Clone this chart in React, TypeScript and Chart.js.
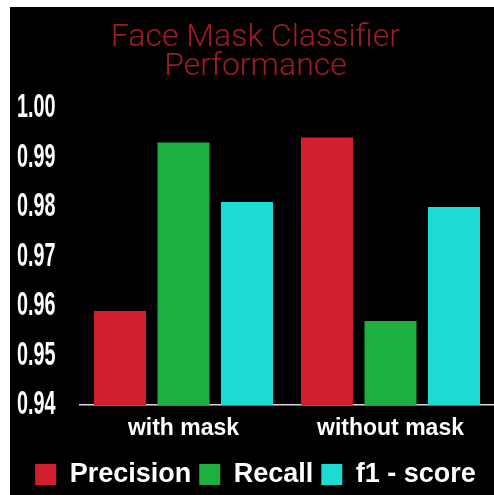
import { useEffect, useRef } from 'react';
import { Chart, registerables } from 'chart.js';

Chart.register(...registerables);

const categories = ['with mask', 'without mask'];
const seriesNames = ['Precision', 'Recall', 'f1 - score'];
const precision = [0.959, 0.994];
const recall = [0.993, 0.957];
const f1Score = [0.981, 0.98];
const yMin = 0.94;
const yMax = 1.0;
const yStep = 0.01;
const titleLines = ['Face Mask Classifier', 'Performance'];

const colors = ['#d11f2f', '#1db040', '#1cdad4'];

const condenseYLabels = {
  id: 'condenseYLabels',
  beforeDraw(chart: any) {
    const s = chart.scales.y;
    if (s && !s.__condensed) {
      const orig = s.drawLabels.bind(s);
      s._computeLabelArea = () => undefined;
      s.drawLabels = function (area: any) {
        const ctx = this.ctx;
        ctx.save();
        ctx.translate(this.left, 0);
        ctx.scale(0.6, 1);
        ctx.translate(-this.left, 0);
        orig(area);
        ctx.restore();
      };
      s.__condensed = true;
    }
  },
};

export default function App() {
  const ref = useRef<HTMLCanvasElement | null>(null);

  useEffect(() => {
    if (!ref.current) return;
    const chart = new Chart(ref.current, {
      type: 'bar',
      data: {
        labels: categories,
        datasets: [precision, recall, f1Score].map((d, i) => ({
          label: seriesNames[i],
          data: d,
          backgroundColor: colors[i],
          borderWidth: 0,
          categoryPercentage: 0.92,
          barPercentage: 0.82,
        })),
      },
      options: {
        animation: false,
        responsive: false,
        maintainAspectRatio: false,
        layout: { padding: { left: 7, right: 0, top: 0, bottom: -3 } },
        plugins: {
          title: {
            display: true,
            text: titleLines,
            color: '#a11c22',
            font: { family: 'Roboto', weight: '300', size: 32, lineHeight: 0.92 },
            padding: { top: 16, bottom: 26 },
          },
          legend: {
            display: true,
            position: 'bottom',
            labels: {
              color: '#ffffff',
              boxWidth: 21,
              boxHeight: 21,
              padding: 8,
              font: { family: 'Liberation Sans', weight: 'bold', size: 27 },
            },
          },
          tooltip: { enabled: false },
        },
        scales: {
          x: {
            grid: { display: false, drawTicks: false },
            border: { display: true, color: '#d8d8d8', width: 1.5 },
            ticks: {
              color: '#ffffff',
              padding: 22,
              font: { family: 'Liberation Sans', weight: 'bold', size: 23, lineHeight: 0.17 },
            },
          },
          y: {
            min: yMin,
            max: yMax,
            grid: { display: false, drawTicks: false },
            border: { display: false },
            afterFit: (scale: any) => {
              scale.width = 63;
            },
            ticks: {
              stepSize: yStep,
              crossAlign: 'far',
              color: '#ffffff',
              padding: 4,
              font: { family: 'Liberation Sans', weight: 'bold', size: 33 },
              callback: (v: any) => Number(v).toFixed(2),
            },
          },
        },
      },
      plugins: [condenseYLabels],
    });
    return () => chart.destroy();
  }, []);

  return (
    <div
      style={{
        position: 'absolute',
        left: 10,
        top: 7,
        width: 484,
        height: 488,
        background: '#000',
        overflow: 'hidden',
      }}
    >
      <canvas ref={ref} width={484} height={488} style={{ display: 'block' }} />
    </div>
  );
}
